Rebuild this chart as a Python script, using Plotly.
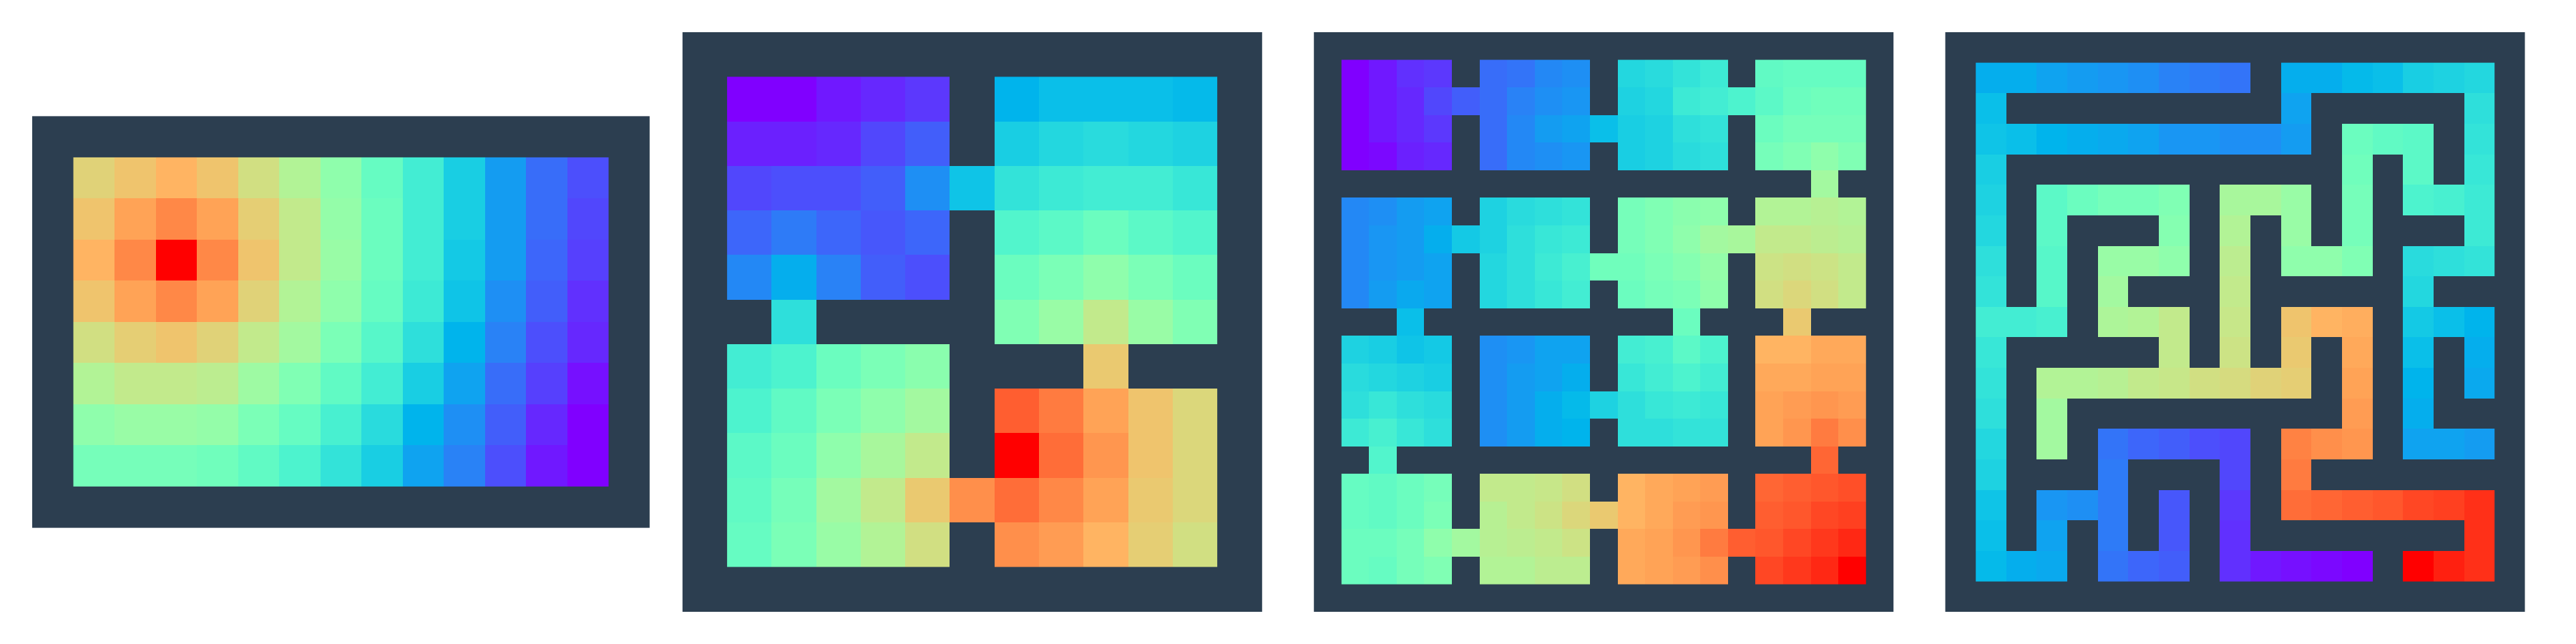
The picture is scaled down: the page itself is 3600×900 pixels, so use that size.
import numpy as np
import plotly.graph_objects as go
from plotly.subplots import make_subplots

_ = None

# Heat values (0 = far / purple, 100 = goal / red); None = wall
P1 = [
    [69, 72, 75, 72, 66, 60, 53, 45, 38, 30, 21, 14, 10],
    [72, 78, 82, 78, 70, 63, 54, 46, 38, 30, 21, 14, 9],
    [75, 82, 100, 82, 72, 63, 55, 46, 38, 29, 21, 13, 8],
    [72, 78, 82, 78, 69, 60, 53, 45, 37, 28, 19, 12, 6],
    [66, 70, 72, 69, 63, 57, 49, 42, 34, 25, 17, 10, 5],
    [60, 63, 63, 62, 56, 50, 44, 38, 30, 22, 14, 8, 2],
    [53, 55, 55, 54, 49, 45, 39, 33, 25, 19, 12, 5, 0],
    [48, 48, 48, 47, 44, 40, 35, 30, 22, 17, 10, 3, 0],
]

P2 = [
    [0, 0, 3, 5, 7, _, 25, 27, 27, 27, 26],
    [4, 4, 5, 9, 12, _, 30, 32, 33, 32, 31],
    [9, 10, 10, 12, 19, 28, 35, 37, 38, 38, 36],
    [13, 16, 13, 11, 13, _, 41, 43, 46, 43, 41],
    [18, 24, 17, 12, 10, _, 46, 49, 53, 49, 46],
    [_, 34, _, _, _, _, 50, 55, 63, 55, 50],
    [38, 40, 46, 49, 52, _, _, _, 71, _, _],
    [40, 44, 49, 53, 57, _, 88, 84, 78, 72, 68],
    [43, 46, 53, 58, 63, _, 100, 86, 80, 72, 68],
    [44, 48, 57, 63, 71, 81, 86, 82, 78, 71, 68],
    [45, 49, 55, 60, 66, _, 81, 79, 75, 70, 66],
]

P3 = [
    [0, 3, 6, 7, _, 14, 15, 18, 19, _, 32, 33, 35, 37, _, 44, 45, 45, 45],
    [0, 3, 5, 9, 12, 14, 17, 19, 20, _, 31, 32, 37, 38, 40, 43, 46, 47, 47],
    [0, 3, 5, 7, _, 14, 18, 21, 22, 27, 30, 31, 34, 35, _, 46, 48, 48, 48],
    [0, 1, 4, 5, _, 14, 18, 19, 20, _, 30, 31, 33, 34, _, 48, 50, 53, 50],
    [_, _, _, _, _, _, _, _, _, _, _, _, _, _, _, _, _, 57, _],
    [18, 19, 21, 22, _, 31, 33, 34, 35, _, 48, 50, 52, 53, _, 60, 60, 61, 60],
    [18, 20, 21, 24, 29, 31, 34, 36, 37, _, 48, 50, 53, 57, 58, 63, 63, 62, 61],
    [18, 20, 21, 22, _, 32, 34, 37, 39, 47, 47, 49, 51, 54, _, 65, 66, 65, 63],
    [18, 21, 23, 22, _, 32, 34, 36, 38, _, 46, 48, 49, 53, _, 66, 68, 66, 63],
    [_, _, 27, _, _, _, _, _, _, _, _, _, 46, _, _, _, 71, _, _],
    [31, 30, 28, 29, _, 19, 20, 22, 22, _, 38, 39, 43, 40, _, 75, 75, 77, 77],
    [33, 32, 31, 30, _, 19, 21, 22, 24, _, 36, 38, 40, 38, _, 77, 77, 78, 78],
    [34, 36, 34, 33, _, 19, 21, 24, 26, 31, 34, 36, 37, 36, _, 78, 79, 80, 79],
    [37, 39, 36, 34, _, 19, 21, 24, 25, _, 34, 34, 35, 35, _, 78, 80, 84, 81],
    [_, 41, _, _, _, _, _, _, _, _, _, _, _, _, _, _, _, 87, _],
    [45, 44, 46, 48, _, 63, 63, 64, 66, _, 75, 77, 78, 79, _, 87, 88, 89, 90],
    [45, 44, 46, 49, _, 61, 63, 65, 68, 71, 75, 77, 79, 80, _, 88, 89, 91, 92],
    [46, 46, 48, 53, 57, 61, 62, 63, 65, _, 77, 78, 80, 84, 88, 89, 91, 93, 95],
    [46, 45, 48, 50, _, 60, 60, 62, 62, _, 77, 78, 79, 81, _, 91, 93, 95, 100],
]

P4 = [
    [24, 24, 22, 21, 20, 19, 17, 16, 15, _, 24, 24, 26, 27, 30, 31, 32],
    [27, _, _, _, _, _, _, _, _, _, 22, _, _, _, _, _, 34],
    [28, 27, 25, 24, 23, 22, 20, 20, 19, 19, 21, _, 46, 44, 43, _, 35],
    [30, _, _, _, _, _, _, _, _, _, _, _, 47, _, 43, _, 36],
    [31, _, 43, 46, 48, 48, 50, _, 58, 58, 55, _, 48, _, 40, 39, 37],
    [32, _, 43, _, _, _, 51, _, 60, _, 55, _, 48, _, _, _, 37],
    [34, _, 42, _, 55, 55, 53, _, 62, _, 53, 53, 50, _, 33, 34, 35],
    [35, _, 42, _, 57, _, _, _, 63, _, _, _, _, _, 32, _, _],
    [38, 38, 39, _, 59, 60, 63, _, 64, _, 72, 75, 76, _, 29, 27, 25],
    [36, _, _, _, _, _, 63, _, 65, _, 71, _, 77, _, 27, _, 24],
    [35, _, 60, 60, 61, 63, 64, 66, 67, 69, 70, _, 78, _, 25, _, 23],
    [34, _, 57, _, _, _, _, _, _, _, _, _, 79, _, 24, _, _],
    [32, _, 57, _, 15, 13, 12, 10, 9, _, 83, 81, 80, _, 22, 22, 21],
    [31, _, _, _, 16, _, _, _, 9, _, 84, _, _, _, _, _, _],
    [28, _, 20, 19, 16, _, 11, _, 7, _, 86, 87, 88, 89, 91, 92, 94],
    [27, _, 22, _, 16, _, 11, _, 6, _, _, _, _, _, _, _, 94],
    [26, 24, 23, _, 15, 13, 12, _, 6, 3, 2, 1, 0, _, 100, 96, 94],
]

PANELS = [P1, P2, P3, P4]

WALL = "#2c3e50"


def rainbow_scale(n=41):
    stops = []
    for i in range(n):
        x = i / (n - 1)
        r = min(1.0, abs(2 * x - 0.5))
        g = max(0.0, np.sin(np.pi * x))
        b = max(0.0, np.cos(np.pi * x / 2))
        stops.append([x, f"rgb({round(r*255)},{round(g*255)},{round(b*255)})"])
    return stops


CS = rainbow_scale()

fig = make_subplots(rows=1, cols=4, horizontal_spacing=19.5 / 3510)

for i, grid in enumerate(PANELS, start=1):
    nrows = len(grid)
    ncols = len(grid[0])
    fig.add_trace(
        go.Heatmap(
            z=grid,
            x=list(range(ncols)),
            y=list(range(nrows)),
            colorscale=CS,
            zmin=0,
            zmax=100,
            showscale=False,
            hoverinfo="skip",
        ),
        row=1,
        col=i,
    )
    xname = "x" if i == 1 else f"x{i}"
    fig.update_xaxes(
        range=[-1.5, ncols + 0.5],
        constrain="domain",
        visible=False,
        showgrid=False,
        zeroline=False,
        row=1,
        col=i,
    )
    fig.update_yaxes(
        range=[nrows + 0.5, -1.5],
        scaleanchor=xname,
        scaleratio=1,
        constrain="domain",
        visible=False,
        showgrid=False,
        zeroline=False,
        row=1,
        col=i,
    )

fig.update_layout(
    width=3600,
    height=900,
    margin=dict(l=37, r=53, t=37, b=53),
    paper_bgcolor="white",
    plot_bgcolor=WALL,
    showlegend=False,
)

fig.write_html("out.html")
